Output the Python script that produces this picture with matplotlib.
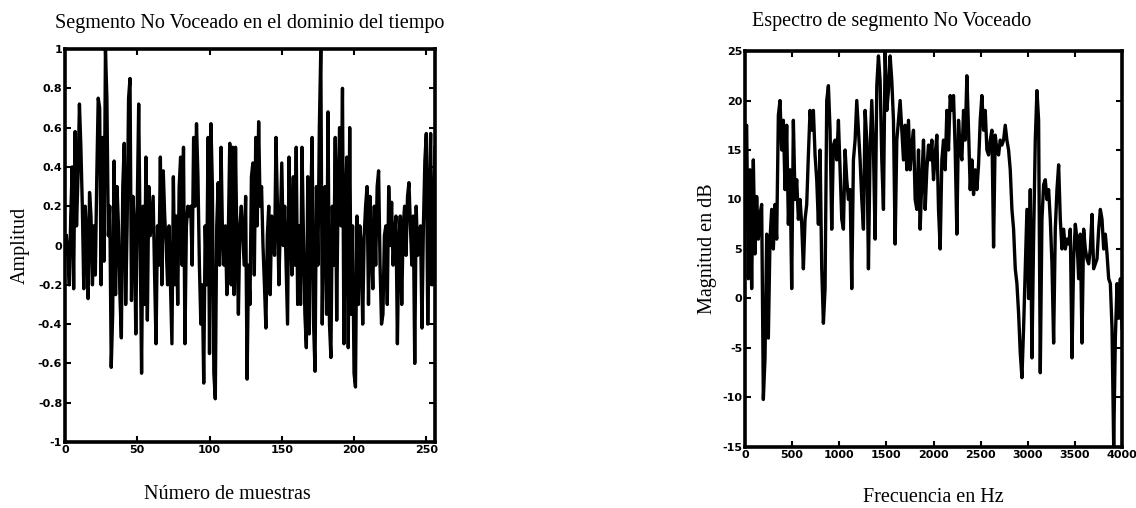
import numpy as np
import matplotlib
matplotlib.use('Agg')
import matplotlib.pyplot as plt

# time-domain samples of the unvoiced segment (256 samples)
amplitud = [
    0.05, -0.05, -0.2, 0.15, 0.4, -0.22, 0.58, 0.1, 0.35, 0.72, 0.5, 0.2, -0.22, 0.2, 0.05, -0.27,
    0.27, 0.15, -0.2, 0.1, -0.15, 0.35, 0.75, 0.7, -0.2, 0.55, -0.08, 1.0, 0.75, 0.05, 0.2, -0.62,
    -0.35, 0.43, -0.25, 0.3, 0.1, -0.25, -0.47, 0.3, 0.52, -0.3, 0.1, 0.75, 0.85, -0.28, 0.25, 0.1,
    -0.45, 0.2, 0.72, 0.05, -0.65, 0.2, -0.3, 0.45, -0.38, 0.3, 0.05, 0.15, 0.25, -0.15, -0.5, 0.1,
    -0.1, 0.45, -0.2, 0.38, 0.15, 0.0, -0.2, 0.1, -0.2, -0.5, 0.35, -0.2, 0.15, -0.3, 0.3, 0.45,
    -0.1, 0.5, -0.5, 0.1, 0.2, 0.15, 0.2, -0.1, 0.55, 0.2, 0.62, 0.35, -0.1, -0.4, -0.2, -0.7,
    0.1, -0.2, 0.55, -0.55, 0.62, 0.3, -0.65, -0.78, 0.1, 0.32, -0.1, 0.5, 0.05, -0.1, 0.1, -0.25,
    0.05, 0.52, -0.2, 0.5, -0.25, 0.5, 0.0, -0.35, 0.1, 0.2, 0.05, -0.1, 0.25, -0.68, -0.1, -0.3,
    0.35, 0.42, -0.15, 0.55, 0.1, 0.63, 0.2, 0.3, 0.0, -0.2, -0.42, 0.05, 0.2, -0.25, 0.15, 0.1,
    -0.05, 0.55, 0.2, -0.2, 0.1, 0.42, 0.0, 0.2, -0.1, -0.4, 0.45, 0.1, -0.15, 0.35, -0.1, 0.5,
    -0.3, 0.1, -0.3, 0.5, 0.05, -0.35, -0.52, 0.35, -0.45, 0.2, 0.55, -0.4, -0.64, 0.3, -0.1, 0.6,
    1.0, -0.4, 0.2, 0.3, -0.35, 0.68, -0.4, -0.57, 0.2, -0.1, 0.55, -0.38, 0.3, 0.6, 0.1, 0.8,
    -0.5, 0.2, 0.45, -0.52, 0.6, -0.35, 0.1, -0.65, -0.72, 0.15, -0.3, 0.1, 0.0, -0.4, 0.05, 0.2,
    0.3, -0.3, 0.25, 0.0, -0.22, 0.2, -0.1, 0.3, 0.38, -0.1, -0.4, -0.35, 0.05, 0.1, -0.3, 0.3,
    0.0, 0.22, -0.1, 0.05, 0.15, -0.5, 0.0, 0.15, -0.3, 0.1, 0.2, -0.05, 0.25, 0.32, 0.1, -0.1,
    0.15, -0.6, 0.2, -0.05, 0.05, 0.1, -0.42, 0.1, 0.43, 0.57, -0.4, 0.2, 0.57, -0.2, 0.1, 0.5,
]
muestras = np.arange(1, len(amplitud) + 1)

# magnitude spectrum in dB, 0..4000 Hz
magnitud_db = [
    17, 17.5, 2, 13, 1, 14, 4.5, 10.3, 6, 8.5, 9.5, -10.2, -6, 6.5, -4, 6,
    9, 5, 9.5, 6, 18.5, 20, 15, 18, 11, 17.5, 7.5, 13, 1, 18, 10, 12,
    8, 10, 7.5, 3, 8, 9.5, 14.5, 19, 17, 19, 14.5, 12, 7.5, 15, 3, -2.5,
    1, 20, 21.5, 17, 7, 15.5, 16, 14, 18, 13, 8, 7, 15, 12, 10, 11,
    1, 14, 16, 20, 17, 14, 10, 7, 19, 16, 3, 15, 20, 15, 6, 21.5,
    24.5, 22, 14, 9, 25, 19, 21, 24.5, 22, 18, 5.5, 16, 18, 20, 17, 14,
    17.5, 13, 18, 13, 15.5, 17, 10, 9, 15, 7, 12, 16, 9, 13, 15.5, 14,
    16, 12, 14.5, 16.5, 9, 5, 14, 16, 13, 19, 15, 20.5, 19, 20.5, 15, 6.5,
    18, 15, 14, 19, 16, 22.5, 17, 11, 14, 10.5, 13, 11, 13.5, 18, 20.5, 17,
    19, 15, 14.5, 16, 17, 5.2, 16.5, 15, 14.5, 16, 15.5, 16, 17.5, 16, 15, 13,
    9, 7, 3, 1.5, -1.5, -5.5, -8, -3, 3, 9, 0, 11, -6, 6, 16, 21,
    18, -7.5, 8, 11.5, 12, 10, 11, 8, 3.5, -4.5, 7, 11, 13.5, 8, 5, 7,
    5, 6, 5.5, 7, -6, 4, 7.5, 6, 2, 6.5, -4.5, 7, 5, 4, 3.5, 5,
    8.5, 3, 3.5, 4, 7, 9, 8, 5, 6.5, 4.5, 2, 1.5, -3, -15, -4, 1.5,
    -2, 2, -3,
]
frecuencia = np.linspace(0, 4000, len(magnitud_db))

amp_ticks = [-1, -0.8, -0.6, -0.4, -0.2, 0, 0.2, 0.4, 0.6, 0.8, 1]
amp_labels = ['-1', '-0.8', '-0.6', '-0.4', '-0.2', '0', '0.2', '0.4', '0.6', '0.8', '1']
mues_ticks = [0, 50, 100, 150, 200, 250]
db_ticks = [-15, -10, -5, 0, 5, 10, 15, 20, 25]
hz_ticks = [0, 500, 1000, 1500, 2000, 2500, 3000, 3500, 4000]

serif = 'Liberation Serif'
tick_font = {'family': 'DejaVu Sans', 'weight': 'bold', 'size': 8}

fig = plt.figure(figsize=(11.36, 5.08), dpi=100)
fig.patch.set_facecolor('white')


def style_axes(ax):
    for s in ax.spines.values():
        s.set_linewidth(2.6)
        s.set_color('black')
    ax.tick_params(direction='in', length=4, width=1.5, top=True, right=True,
                   pad=2, colors='black')
    for lab in ax.get_xticklabels() + ax.get_yticklabels():
        lab.set_fontfamily(tick_font['family'])
        lab.set_fontweight(tick_font['weight'])
        lab.set_fontsize(tick_font['size'])


# left: signal in time
ax1 = fig.add_axes([0.0572, 0.1299, 0.3257, 0.7736])
ax1.plot(muestras, amplitud, color='black', linewidth=2.4)
ax1.set_xlim(0, 256)
ax1.set_ylim(-1, 1)
ax1.set_xticks(mues_ticks)
ax1.set_xticklabels([str(t) for t in mues_ticks])
ax1.set_yticks(amp_ticks)
ax1.set_yticklabels(amp_labels)
style_axes(ax1)
ax1.set_title('Segmento No Voceado en el dominio del tiempo', fontfamily=serif,
              fontsize=14.5, pad=15)
ax1.set_xlabel('Número de muestras', fontfamily=serif, fontsize=14.5, labelpad=22,
               x=0.44)
ax1.set_ylabel('Amplitud', fontfamily=serif, fontsize=14.5, labelpad=6)

# right: spectrum
ax2 = fig.add_axes([0.6558, 0.1201, 0.3319, 0.7795])
ax2.plot(frecuencia, magnitud_db, color='black', linewidth=2.4)
ax2.set_xlim(0, 4000)
ax2.set_ylim(-15, 25)
ax2.set_xticks(hz_ticks)
ax2.set_xticklabels([str(t) for t in hz_ticks])
ax2.set_yticks(db_ticks)
ax2.set_yticklabels([str(t) for t in db_ticks])
style_axes(ax2)
ax2.set_title('Espectro de segmento No Voceado', fontfamily=serif,
              fontsize=14.5, pad=18, x=0.39)
ax2.set_xlabel('Frecuencia en Hz', fontfamily=serif, fontsize=14.5, labelpad=20)
ax2.set_ylabel('Magnitud en dB', fontfamily=serif, fontsize=14.5, labelpad=4)

fig.savefig('out.png', dpi=100, facecolor='white')
